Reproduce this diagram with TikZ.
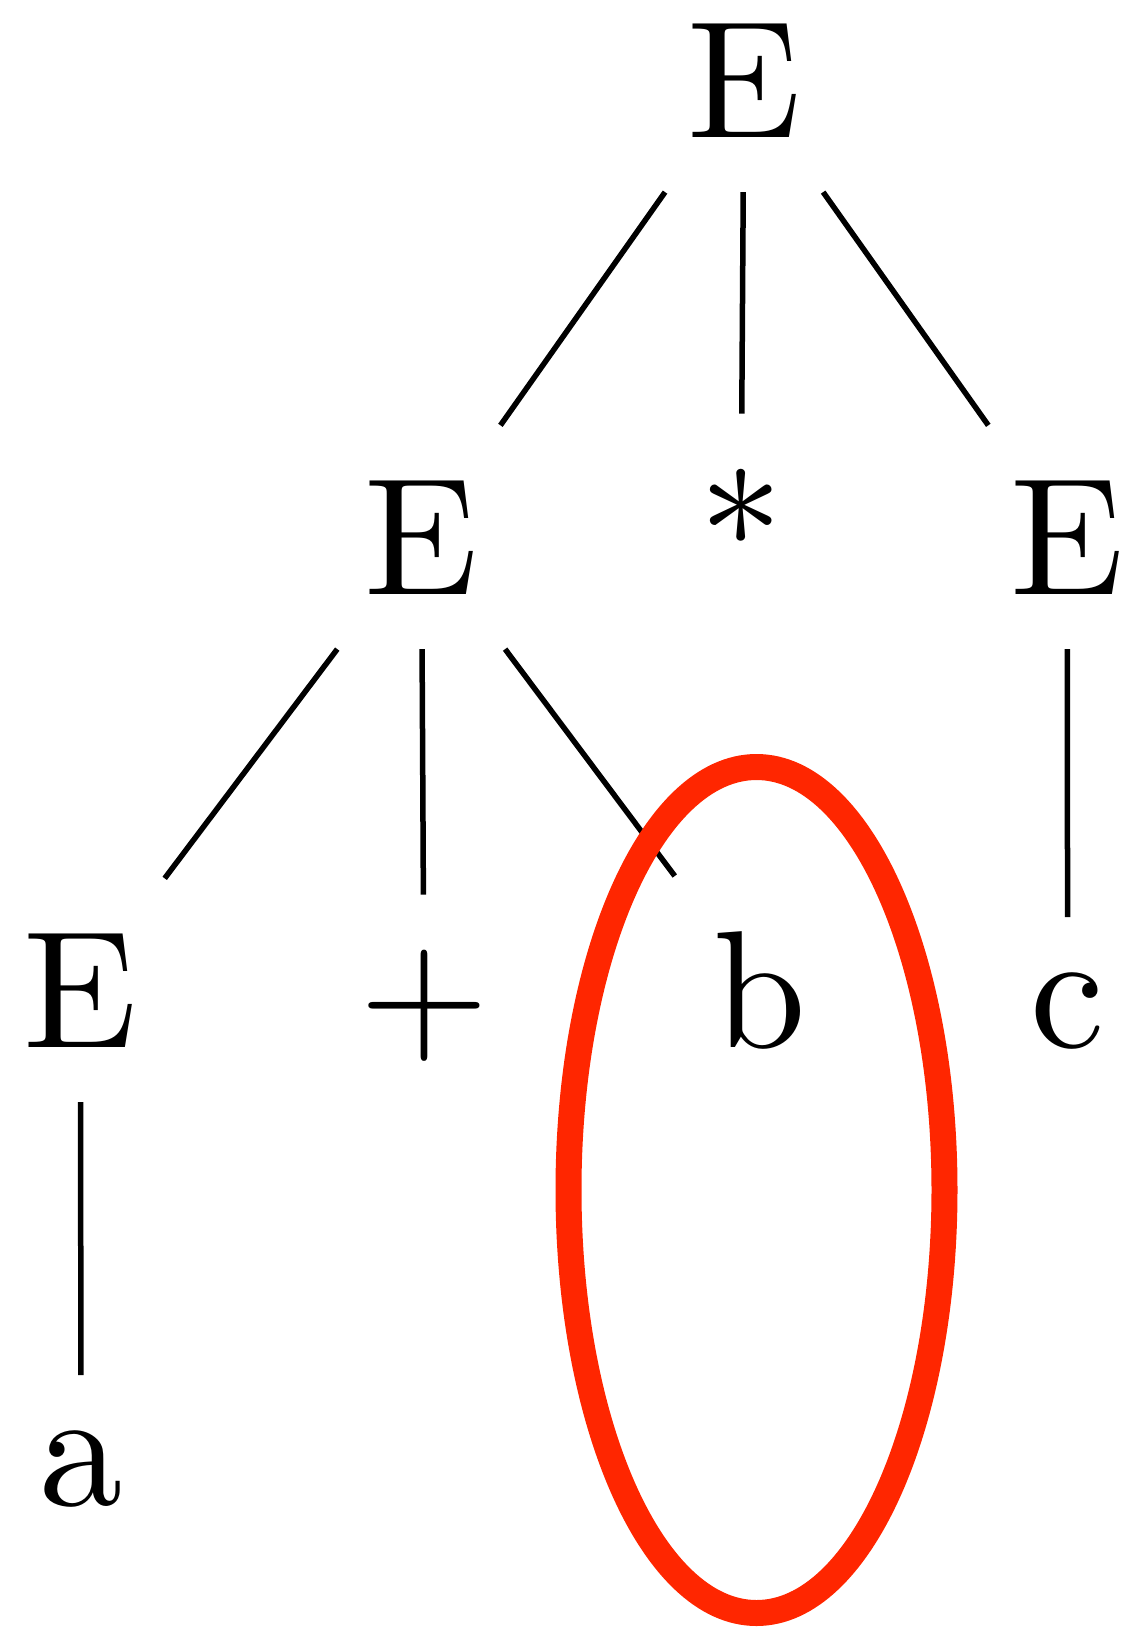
\documentclass[tikz,border=0pt]{standalone}
\definecolor{ringred}{RGB}{255,38,0}
\begin{document}
\begin{tikzpicture}[x=1pt,y=-1pt,
  sym/.style={anchor=base,inner sep=3.3pt,outer sep=0pt,scale=16.7,transform shape,font=\fontsize{10}{12}\selectfont},
  edge/.style={line width=5.5pt,black},
  ring/.style={line width=26pt,draw=ringred}]
\useasboundingbox (0,0) rectangle (1121,1628);
\node[sym] (e0) at (744,137) {E};
\node[sym] (e1) at (421.5,594) {E};
\node[sym] (st) at (741,594) {*};
\node[sym] (e2) at (1067.5,594) {E};
\node[sym] (e3) at (80.5,1047) {E};
\node[sym] (pl) at (424,1047) {+};
\node[sym] (b) at (760,1047) {b};
\node[sym] (c) at (1067.5,1047) {c};
\node[sym] (a) at (81,1505) {a};
\draw[edge] (e0) -- (e1);
\draw[edge] (e0) -- (st);
\draw[edge] (e0) -- (e2);
\draw[edge] (e1) -- (e3);
\draw[edge] (e1) -- (pl);
\draw[edge] (e1) -- (b);
\draw[edge] (e2) -- (c);
\draw[edge] (e3) -- (a);
\coordinate (ringc) at (756.5,1190);
\draw[ring] (ringc) ellipse [x radius=188, y radius=423];
\end{tikzpicture}
\end{document}
